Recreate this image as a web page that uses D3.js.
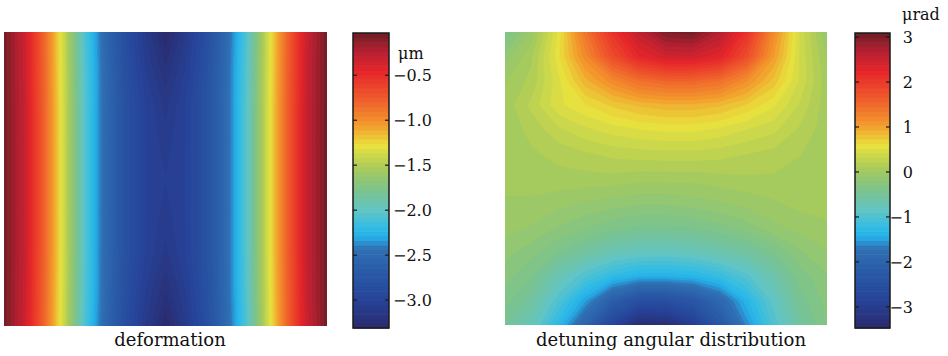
<!DOCTYPE html>
<html>
<head>
<meta charset="utf-8">
<script src="https://cdn.jsdelivr.net/npm/d3@7"></script>
<style>
  body { margin: 0; background: #fff; }
  svg { display: block; }
  text { font-family: "DejaVu Serif", serif; fill: #111; }
</style>
</head>
<body>
<div id="chart"></div>
<script>
// deformation (um), 9 rows (top->bottom) x 17 columns (left->right)
const deformation = [
  [-0.05,-0.32,-0.82,-1.42,-2.08,-2.52,-2.85,-3.1,-3.3,-3.1,-2.85,-2.52,-2.08,-1.42,-0.82,-0.32,-0.05],
  [-0.05,-0.31,-0.81,-1.41,-2.06,-2.5,-2.82,-3.05,-3.2,-3.05,-2.82,-2.5,-2.06,-1.41,-0.81,-0.31,-0.05],
  [-0.05,-0.3,-0.8,-1.4,-2.05,-2.5,-2.8,-3.0,-3.12,-3.0,-2.8,-2.5,-2.05,-1.4,-0.8,-0.3,-0.05],
  [-0.05,-0.3,-0.8,-1.4,-2.05,-2.5,-2.8,-3.0,-3.08,-3.0,-2.8,-2.5,-2.05,-1.4,-0.8,-0.3,-0.05],
  [-0.05,-0.3,-0.8,-1.4,-2.05,-2.5,-2.8,-3.0,-3.05,-3.0,-2.8,-2.5,-2.05,-1.4,-0.8,-0.3,-0.05],
  [-0.05,-0.3,-0.8,-1.4,-2.05,-2.5,-2.8,-3.0,-3.08,-3.0,-2.8,-2.5,-2.05,-1.4,-0.8,-0.3,-0.05],
  [-0.05,-0.3,-0.8,-1.4,-2.05,-2.5,-2.8,-3.0,-3.12,-3.0,-2.8,-2.5,-2.05,-1.4,-0.8,-0.3,-0.05],
  [-0.05,-0.31,-0.81,-1.41,-2.06,-2.5,-2.82,-3.05,-3.2,-3.05,-2.82,-2.5,-2.06,-1.41,-0.81,-0.31,-0.05],
  [-0.05,-0.32,-0.82,-1.42,-2.08,-2.52,-2.85,-3.1,-3.3,-3.1,-2.85,-2.52,-2.08,-1.42,-0.82,-0.32,-0.05]
];

// detuning angle (urad), 13 rows x 13 columns
const detuning = [
  [-0.4,-0.05,0.55,1.4,2.1,2.6,3.0,3.05,2.7,2.1,1.2,0.4,-0.1],
  [-0.15,0.1,0.6,1.2,1.8,2.25,2.45,2.45,2.3,1.8,1.05,0.4,0.0],
  [0.0,0.15,0.5,0.9,1.2,1.45,1.55,1.55,1.45,1.15,0.8,0.4,0.05],
  [0.05,0.25,0.5,0.62,0.75,0.85,0.9,0.9,0.85,0.72,0.55,0.3,0.05],
  [0.05,0.15,0.3,0.4,0.47,0.52,0.55,0.55,0.5,0.42,0.35,0.2,0.05],
  [0.05,0.1,0.15,0.2,0.25,0.27,0.28,0.28,0.26,0.22,0.18,0.12,0.05],
  [0.05,0.05,0.08,0.08,0.08,0.05,0.05,0.05,0.08,0.1,0.1,0.08,0.05],
  [0.0,0.0,-0.05,-0.1,-0.14,-0.17,-0.17,-0.14,-0.1,-0.05,0.0,0.05,0.05],
  [-0.05,-0.1,-0.2,-0.28,-0.36,-0.42,-0.42,-0.4,-0.33,-0.24,-0.12,-0.05,0.0],
  [-0.15,-0.25,-0.4,-0.55,-0.7,-0.78,-0.8,-0.75,-0.65,-0.55,-0.4,-0.2,-0.1],
  [-0.25,-0.4,-0.7,-1.0,-1.25,-1.4,-1.4,-1.35,-1.2,-0.95,-0.65,-0.35,-0.2],
  [-0.35,-0.55,-1.0,-1.5,-2.1,-2.5,-2.5,-2.3,-1.9,-1.35,-0.85,-0.45,-0.25],
  [-0.5,-0.75,-1.3,-2.0,-2.8,-3.4,-3.35,-3.0,-2.3,-1.6,-1.0,-0.55,-0.3]
];

const defDomain = [-3.31, -0.03];
const defTicks = [-3.0, -2.5, -2.0, -1.5, -1.0, -0.5];
const detDomain = [-3.47, 3.09];
const detTicks = [-3, -2, -1, 0, 1, 2, 3];

// colormap (position in [0,1] -> colour)
const cmapPos = [0, 0.10, 0.20, 0.27, 0.31, 0.34, 0.40, 0.47, 0.54, 0.62, 0.69, 0.78, 0.87, 0.94, 1];
const cmapCol = ['#2b2a6c','#26449a','#2a5ca8','#3070b4','#26aee8','#30bce6','#62c4c4','#7cc38c',
                 '#a6ca5c','#e8e23e','#f39a2c','#ef5a2c','#e6262a','#b42032','#6c1e24'];
const cmap = d3.scaleLinear().domain(cmapPos).range(cmapCol).interpolate(d3.interpolateRgb).clamp(true);
const LEVELS = 64;

const svg = d3.select('#chart').append('svg')
  .attr('width', 948).attr('height', 356);

function heatmap(id, grid, domain, box) {
  const rows = grid.length, cols = grid[0].length;
  const values = grid.flat();
  const step = (domain[1] - domain[0]) / LEVELS;
  const thresholds = d3.range(LEVELS).map(k => domain[0] + k * step);
  const t = d3.scaleLinear().domain(domain).range([0, 1]);

  // grid samples sit on the cell centres in contour space
  const xs = d3.scaleLinear().domain([0.5, cols - 0.5]).range([box.x0, box.x1]);
  const ys = d3.scaleLinear().domain([0.5, rows - 0.5]).range([box.y0, box.y1]);
  const path = d3.geoPath(d3.geoTransform({
    point(x, y) { this.stream.point(xs(x), ys(y)); }
  }));

  svg.append('clipPath').attr('id', id)
    .append('rect')
    .attr('x', box.x0).attr('y', box.y0)
    .attr('width', box.x1 - box.x0).attr('height', box.y1 - box.y0);

  const contours = d3.contours().size([cols, rows]).thresholds(thresholds)(values);

  svg.append('g').attr('clip-path', `url(#${id})`)
    .selectAll('path')
    .data(contours)
    .join('path')
    .attr('d', path)
    .attr('fill', d => cmap(t(d.value + step / 2)))
    .attr('stroke', d => cmap(t(d.value + step / 2)))
    .attr('stroke-width', 0.5);
}

function colorbar(domain, ticks, box, fmt, labelX, anchor) {
  const step = (domain[1] - domain[0]) / LEVELS;
  const t = d3.scaleLinear().domain(domain).range([0, 1]);
  const y = d3.scaleLinear().domain(domain).range([box.y1, box.y0]);
  const g = svg.append('g');

  g.selectAll('rect.band')
    .data(d3.range(LEVELS).map(k => domain[0] + k * step))
    .join('rect')
    .attr('class', 'band')
    .attr('x', box.x0)
    .attr('width', box.x1 - box.x0)
    .attr('y', d => y(d + step))
    .attr('height', d => y(d) - y(d + step) + 0.6)
    .attr('fill', d => cmap(t(d + step / 2)));

  g.append('rect')
    .attr('x', box.x0).attr('y', box.y0)
    .attr('width', box.x1 - box.x0).attr('height', box.y1 - box.y0)
    .attr('fill', 'none').attr('stroke', '#1a1a1a').attr('stroke-width', 1.5);

  g.selectAll('line.tl').data(ticks).join('line')
    .attr('x1', box.x0).attr('x2', box.x0 + 4)
    .attr('y1', d => y(d)).attr('y2', d => y(d))
    .attr('stroke', '#1a1a1a').attr('stroke-width', 1.2);
  g.selectAll('line.tr').data(ticks).join('line')
    .attr('x1', box.x1 - 4).attr('x2', box.x1)
    .attr('y1', d => y(d)).attr('y2', d => y(d))
    .attr('stroke', '#1a1a1a').attr('stroke-width', 1.2);

  g.selectAll('text.tick').data(ticks).join('text')
    .attr('class', 'tick')
    .attr('x', labelX)
    .attr('y', d => y(d))
    .attr('dy', '0.36em')
    .attr('text-anchor', anchor)
    .style('font-size', '16px')
    .text(d => fmt(d).replace('-', '\u2212'));
}

heatmap('clipDef', deformation, defDomain, { x0: 4, x1: 327, y0: 32, y1: 326 });
heatmap('clipDet', detuning, detDomain, { x0: 505, x1: 827, y0: 32, y1: 325 });

colorbar(defDomain, defTicks, { x0: 353, x1: 389, y0: 33, y1: 328 }, d3.format('.1f'), 393, 'start');
colorbar(detDomain, detTicks, { x0: 855, x1: 890, y0: 33, y1: 328 }, d3.format('d'), 913, 'end');

// units
svg.append('text').attr('x', 398).attr('y', 59).style('font-size', '16px').text('\u03bcm');
svg.append('text').attr('x', 902).attr('y', 20).style('font-size', '16px').text('\u03bcrad');

// captions
svg.append('text').attr('x', 170).attr('y', 346).attr('text-anchor', 'middle')
  .style('font-size', '18px').text('deformation');
svg.append('text').attr('x', 671).attr('y', 346).attr('text-anchor', 'middle')
  .style('font-size', '18px').text('detuning angular distribution');
</script>
</body>
</html>
